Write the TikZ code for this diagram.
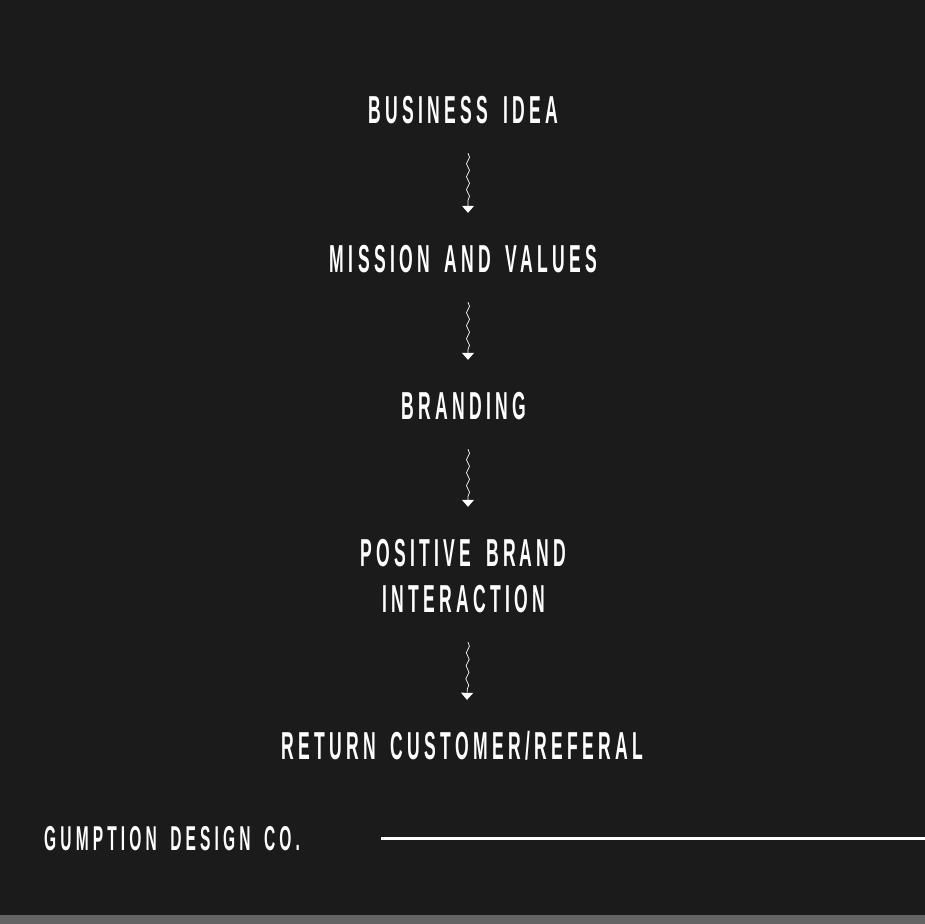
\documentclass[tikz,border=0pt]{standalone}
\usepackage{fontspec}
\usetikzlibrary{arrows.meta,decorations.pathmorphing}
\newfontfamily\stagefont{Liberation Sans}[FakeStretch=0.45,LetterSpace=11,WordSpace=1.6]
\definecolor{board}{RGB}{27,27,27}
\definecolor{boardedge}{RGB}{100,100,100}
\tikzset{
  stage/.style = {text = white, inner sep = 0pt, align = center,
    text height = 28pt, text depth = 0pt,
    font = \stagefont\bfseries\fontsize{39}{46}\selectfont},
  flow/.style = {white, line width = 0.7pt, decorate,
    decoration = {snake, amplitude = 1.5pt, segment length = 13pt, post length = 7pt},
    -{Triangle[width = 12pt, length = 7pt]}}
}
\begin{document}
\begin{tikzpicture}[x = 1pt, y = -1pt]
  \useasboundingbox (0, 0) rectangle (924, 924);
  \fill[board] (-6, -6) rectangle (930, 930);
  \fill[boardedge] (-6, 915) rectangle (930, 930);
  \node[stage] (idea)    at (463.5, 109) {BUSINESS IDEA};
  \node[stage] (mission) at (463.5, 258) {MISSION AND VALUES};
  \node[stage] (brand)   at (463.5, 405) {BRANDING};
  \node[stage, text height = 74pt] (contact) at (463.5, 575) {POSITIVE BRAND\\INTERACTION};
  \node[stage] (return)  at (462.5, 745) {RETURN CUSTOMER/REFERAL};
  \draw[flow] ([shift = {(4.5, 30)}]idea.south)    -- ([shift = {(4.5, -31)}]mission.north);
  \draw[flow] ([shift = {(4.5, 30)}]mission.south) -- ([shift = {(4.5, -31)}]brand.north);
  \draw[flow] ([shift = {(4.5, 30)}]brand.south)   -- ([shift = {(4.5, -31)}]contact.north);
  \draw[flow] ([shift = {(4.5, 30)}]contact.south) -- ([shift = {(4.5, -31)}]return.north);
  % signature and rule
  \node[stage, anchor = west, text height = 24pt,
    font = \stagefont\bfseries\fontsize{34.5}{40}\selectfont\addfontfeature{LetterSpace=12}]
    (studio) at (44, 838) {GUMPTION DESIGN CO.};
  \draw[white, line width = 3pt] (381, 838) -- (930, 838);
\end{tikzpicture}
\end{document}
